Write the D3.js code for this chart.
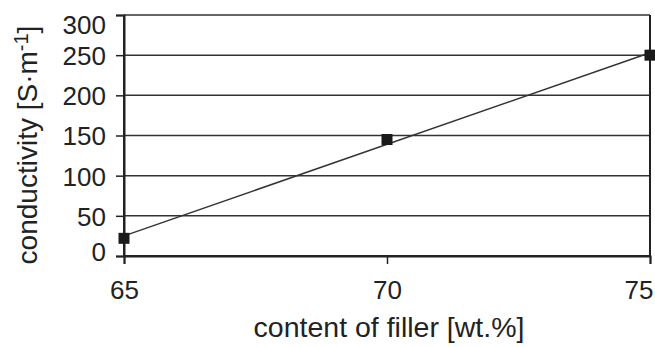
<!DOCTYPE html>
<html><head><meta charset="utf-8">
<script src="https://cdn.jsdelivr.net/npm/d3@7/dist/d3.min.js"></script>
<style>body{margin:0;background:#fff}svg{display:block}text{font-family:"Liberation Sans",Arial,sans-serif;fill:#222}</style>
</head><body>
<script>
const fillerContent = [65, 70, 75];
const conductivity = [22, 145, 250];
const xTicks = [65, 70, 75];
const yTicks = [0, 50, 100, 150, 200, 250, 300];

const W = 655, H = 347;
const m = {left: 124, right: 5, top: 15, bottom: 91};
const svg = d3.select("body").append("svg").attr("width", W).attr("height", H);
const x = d3.scaleLinear().domain([65, 75]).range([m.left, W - m.right]);
const y = d3.scaleLinear().domain([0, 300]).range([H - m.bottom, m.top]);

// gridlines
svg.append("g").selectAll("line").data(yTicks).join("line")
  .attr("x1", x(65)).attr("x2", x(75)).attr("y1", d => y(d)).attr("y2", d => y(d))
  .attr("stroke", "#333").attr("stroke-width", 1.5);
// right border
svg.append("line").attr("x1", x(75)).attr("x2", x(75)).attr("y1", y(0)).attr("y2", y(300))
  .attr("stroke", "#222").attr("stroke-width", 2);

const yAxis = svg.append("g").attr("transform", `translate(${m.left},0)`)
  .call(d3.axisLeft(y).tickValues(yTicks).tickSize(8).tickPadding(10).tickFormat(d3.format("d")));
const xAxis = svg.append("g").attr("transform", `translate(0,${y(0)})`)
  .call(d3.axisBottom(x).tickValues(xTicks).tickSize(8).tickPadding(17).tickFormat(d3.format("d")));
[yAxis, xAxis].forEach(a => {
  a.select(".domain").attr("stroke", "#222").attr("stroke-width", 2);
  a.selectAll(".tick line").attr("stroke", "#222").attr("stroke-width", 1.5);
  a.selectAll("text").style("font-size", "26px").attr("fill", "#222");
});
// labels nudged inside at the ends, as in the reference
yAxis.selectAll(".tick text").attr("dy", d => d === 300 ? "0.7em" : d === 0 ? "0.17em" : "0.36em");
xAxis.selectAll(".tick text").filter(d => d === 75)
  .attr("text-anchor", "end").attr("x", W - 2 - x(75));
svg.append("line").attr("x1", x(65)).attr("x2", x(75)).attr("y1", y(0)).attr("y2", y(0))
  .attr("stroke", "#222").attr("stroke-width", 2);
svg.append("line").attr("x1", x(65)).attr("x2", x(65)).attr("y1", y(0)).attr("y2", y(300))
  .attr("stroke", "#222").attr("stroke-width", 2);

// linear trendline
const mx = d3.mean(fillerContent), my = d3.mean(conductivity);
const slope = d3.sum(fillerContent.map((v, i) => (v - mx) * (conductivity[i] - my))) /
              d3.sum(fillerContent.map(v => (v - mx) ** 2));
const icpt = my - slope * mx;
const ends = [65, 75];
svg.append("line")
  .attr("x1", x(ends[0])).attr("y1", y(icpt + slope * ends[0]))
  .attr("x2", x(ends[1])).attr("y2", y(icpt + slope * ends[1]))
  .attr("stroke", "#333").attr("stroke-width", 1.5);

// markers
const s = 11;
svg.append("g").selectAll("rect").data(fillerContent).join("rect")
  .attr("x", d => x(d) - s / 2).attr("y", (d, i) => y(conductivity[i]) - s / 2)
  .attr("width", s).attr("height", s).attr("fill", "#1a1a1a");

// axis titles
svg.append("text").attr("x", (x(65) + x(75)) / 2 + 2).attr("y", 337).attr("text-anchor", "middle")
  .style("font-size", "28.5px").text("content of filler [wt.%]");
const yt = svg.append("text").attr("transform", "translate(37,145) rotate(-90)")
  .attr("text-anchor", "middle").style("font-size", "28px");
yt.append("tspan").text("conductivity [S·m");
yt.append("tspan").attr("dy", "-0.45em").style("font-size", "20px").text("-1");
yt.append("tspan").attr("dy", "0.32em").text("]");
</script>
</body></html>
